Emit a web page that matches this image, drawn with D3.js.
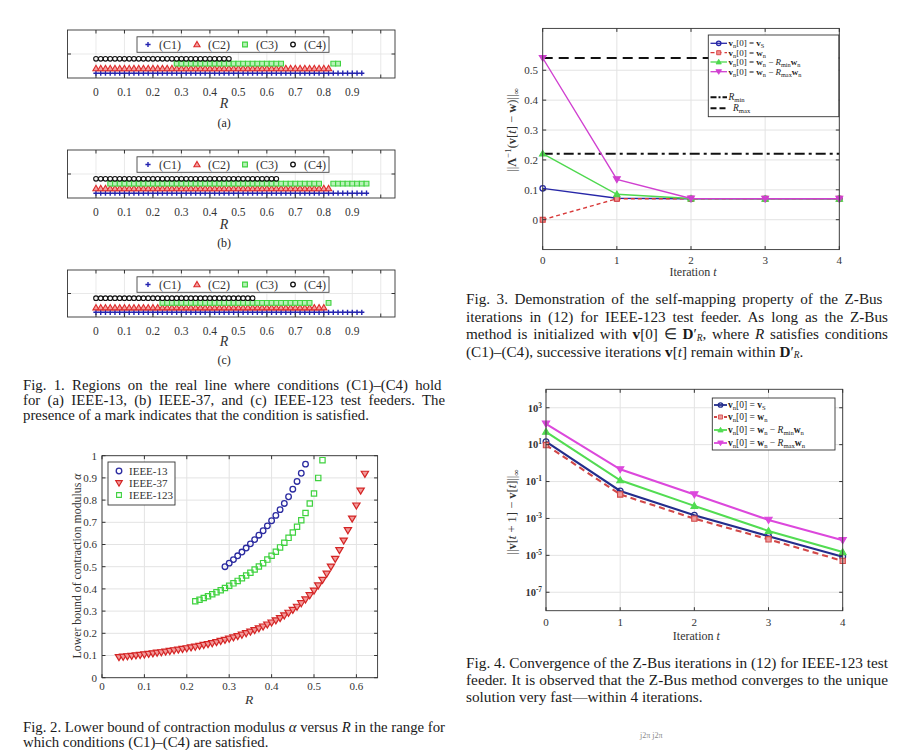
<!DOCTYPE html>
<html><head><meta charset="utf-8">
<script src="https://cdn.jsdelivr.net/npm/d3@7"></script>
<style>
body{margin:0;background:#fff;}
svg{display:block;font-family:"Liberation Serif","Times New Roman",serif;}
svg text{font-family:"Liberation Serif","Times New Roman",serif;}
</style></head><body>
<svg id="page" width="906" height="750"></svg>
<script>
// ================= DATA =================
// Fig. 1 : R intervals where each condition holds (marks drawn on the R sample grid)
const fig1Conditions = ["(C1)", "(C2)", "(C3)", "(C4)"];
const fig1PanelLabels = ["(a)", "(b)", "(c)"];
const fig1Ticks = [0, 0.1, 0.2, 0.3, 0.4, 0.5, 0.6, 0.7, 0.8, 0.9, 1.0];
const fig1TickLabels = ["0", "0.1", "0.2", "0.3", "0.4", "0.5", "0.6", "0.7", "0.8", "0.9"];
const fig1RGrid = d3.range(0, 61).map(k => k / 60);   // R sample grid
const fig1a_C1 = [[0, 0.935]];
const fig1a_C2 = [[0, 0.82]];
const fig1a_C3 = [[0.28, 0.65], [0.83, 0.855]];
const fig1a_C4 = [[0, 0.48]];
const fig1b_C1 = [[0, 0.95]];
const fig1b_C2 = [[0, 0.82]];
const fig1b_C3 = [[0.05, 0.785], [0.83, 0.955]];
const fig1b_C4 = [[0, 0.64]];
const fig1c_C1 = [[0, 0.935]];
const fig1c_C2 = [[0, 0.81]];
const fig1c_C3 = [[0.22, 0.755], [0.81, 0.825]];
const fig1c_C4 = [[0, 0.555]];

// Fig. 2 : lower bound of contraction modulus alpha vs R
const fig2Series = ["IEEE-13", "IEEE-37", "IEEE-123"];
const fig2XTicks = [0, 0.1, 0.2, 0.3, 0.4, 0.5, 0.6];
const fig2XTickLabels = ["0", "0.1", "0.2", "0.3", "0.4", "0.5", "0.6"];
const fig2YTicks = [0, 0.1, 0.2, 0.3, 0.4, 0.5, 0.6, 0.7, 0.8, 0.9, 1];
const fig2YTickLabels = ["0", "0.1", "0.2", "0.3", "0.4", "0.5", "0.6", "0.7", "0.8", "0.9", "1"];
const ieee13_R = [0.29,0.30,0.31,0.32,0.33,0.34,0.35,0.36,0.37,0.38,0.39,0.40,0.41,0.42,0.43,0.44,0.45,0.46,0.47,0.48];
const ieee13_alpha = [0.500,0.516,0.532,0.549,0.566,0.584,0.603,0.622,0.642,0.662,0.684,0.707,0.731,0.757,0.785,0.815,0.849,0.884,0.921,0.962];
const ieee37_R = [0.04,0.05,0.06,0.07,0.08,0.09,0.10,0.11,0.12,0.13,0.14,0.15,0.16,0.17,0.18,0.19,0.20,0.21,0.22,0.23,0.24,0.25,0.26,0.27,0.28,0.29,0.30,0.31,0.32,0.33,0.34,0.35,0.36,0.37,0.38,0.39,0.40,0.41,0.42,0.43,0.44,0.45,0.46,0.47,0.48,0.49,0.50,0.51,0.52,0.53,0.54,0.55,0.56,0.57,0.58,0.59,0.60,0.61,0.62];
const ieee37_alpha = [0.092,0.094,0.096,0.098,0.100,0.102,0.104,0.107,0.109,0.112,0.114,0.117,0.120,0.123,0.126,0.129,0.132,0.136,0.139,0.143,0.147,0.151,0.155,0.160,0.165,0.170,0.175,0.181,0.187,0.193,0.200,0.207,0.214,0.222,0.230,0.239,0.248,0.258,0.268,0.280,0.292,0.305,0.319,0.335,0.352,0.371,0.392,0.415,0.440,0.468,0.500,0.535,0.574,0.617,0.664,0.716,0.775,0.842,0.918];
const ieee123_R = [0.22,0.23,0.24,0.25,0.26,0.27,0.28,0.29,0.30,0.31,0.32,0.33,0.34,0.35,0.36,0.37,0.38,0.39,0.40,0.41,0.42,0.43,0.44,0.45,0.46,0.47,0.48,0.49,0.50,0.51,0.52];
const ieee123_alpha = [0.344,0.351,0.359,0.367,0.376,0.385,0.394,0.404,0.414,0.425,0.436,0.448,0.460,0.473,0.487,0.501,0.516,0.532,0.549,0.567,0.587,0.608,0.630,0.654,0.680,0.709,0.742,0.785,0.830,0.900,0.980];

// Fig. 3 : self-mapping property
const iterations = [0, 1, 2, 3, 4];
const fig3YTicks = [0, 0.1, 0.2, 0.3, 0.4, 0.5];
const fig3YTickLabels = ["0", "0.1", "0.2", "0.3", "0.4", "0.5"];
const fig3_vS   = [0.105, 0.072, 0.070, 0.070, 0.070];
const fig3_wn   = [0.000, 0.070, 0.070, 0.070, 0.070];
const fig3_Rmin = [0.221, 0.085, 0.071, 0.070, 0.070];
const fig3_Rmax = [0.541, 0.135, 0.071, 0.070, 0.070];
const fig3_RminLevel = 0.221;
const fig3_RmaxLevel = 0.541;

// Fig. 4 : convergence
const fig4YTicks = [1e-7, 1e-5, 1e-3, 1e-1, 1e1, 1e3];
const fig4YTickExps = ["-7", "-5", "-3", "-1", "1", "3"];
const fig4_vS   = [14.5, 0.031, 1.5e-3, 1.1e-4, 8.5e-6];
const fig4_wn   = [9.5, 0.020, 9.8e-4, 7.4e-5, 5.0e-6];
const fig4_Rmin = [50, 0.117, 4.8e-3, 2.1e-4, 1.5e-5];
const fig4_Rmax = [135, 0.46, 0.020, 8.3e-4, 6.6e-5];

// ================= DRAWING =================
const svg = d3.select("#page");
const INK = "#1e1e1e";
const GRID = "#e3e3e3";

function rich(parent, x, y, parts, size, opts = {}) {
  const t = parent.append("text").attr("x", x).attr("y", y)
    .attr("font-size", size).attr("fill", opts.fill || INK);
  if (opts.anchor) t.attr("text-anchor", opts.anchor);
  if (opts.transform) t.attr("transform", opts.transform);
  const subK = opts.subShift != null ? opts.subShift : 0.2;
  const subSize = opts.subSize != null ? opts.subSize : 0.7;
  let shift = 0;
  parts.forEach(p => {
    const seg = typeof p === "string" ? { t: p } : p;
    const ts = t.append("tspan").text(seg.t);
    const target = seg.sub ? size * subK : seg.sup ? -size * 0.38 : 0;
    if (target !== shift) { ts.attr("dy", target - shift); shift = target; }
    if (seg.sub || seg.sup) ts.attr("font-size", size * subSize);
    if (seg.b) ts.attr("font-weight", "bold");
    if (seg.i) ts.attr("font-style", "italic");
  });
  return t;
}

function box(g, x0, x1, y0, y1) {
  g.append("rect").attr("x", x0).attr("y", y0).attr("width", x1 - x0).attr("height", y1 - y0)
    .attr("fill", "none").attr("stroke", "#333").attr("stroke-width", 0.9);
}

const mk = {
  plus: "M-2.6,0H2.6M0,-2.6V2.6",
  triUp: "M0,-3.1L3.1,2.3L-3.1,2.3Z",
  triDown: "M0,3.1L3.3,-2.4L-3.3,-2.4Z",
  square: "M-2.4,-2.4h4.8v4.8h-4.8z"
};

// ---------- Fig. 1 ----------
const f1x = d3.scaleLinear().domain([-0.1, 1.05]).range([67.5, 395]);
const fig1Panels = [
  { top: 30, bot: 78, tickY: 96, rY: 108, capY: 127, data: [fig1a_C1, fig1a_C2, fig1a_C3, fig1a_C4] },
  { top: 150, bot: 198, tickY: 216, rY: 228.5, capY: 247, data: [fig1b_C1, fig1b_C2, fig1b_C3, fig1b_C4] },
  { top: 270, bot: 317, tickY: 334.5, rY: 346, capY: 364, data: [fig1c_C1, fig1c_C2, fig1c_C3, fig1c_C4] }
];
const f1style = [
  { path: mk.plus, stroke: "#2424b0", fill: "none", sw: 1.4 },
  { path: mk.triUp, stroke: "#dd2a2a", fill: "#f3a0a0", sw: 1.1 },
  { path: mk.square, stroke: "#3fd23f", fill: "#b8f2b8", sw: 1.1 },
  { path: null, stroke: "#111", fill: "none", sw: 1.1 }
];
fig1Panels.forEach((p, pi) => {
  const g = svg.append("g");
  const y = d3.scaleLinear().domain([0, 10]).range([p.bot, p.top]);
  const [x0, x1] = f1x.range();
  g.selectAll(".vg").data(fig1Ticks).join("line")
    .attr("x1", d => f1x(d)).attr("x2", d => f1x(d)).attr("y1", p.top).attr("y2", p.bot)
    .attr("stroke", GRID).attr("stroke-width", 0.8);
  g.append("line").attr("x1", x0).attr("x2", x1).attr("y1", y(5)).attr("y2", y(5))
    .attr("stroke", GRID).attr("stroke-width", 0.8);
  p.data.forEach((intervals, ci) => {
    const pts = fig1RGrid.filter(r => intervals.some(iv => r >= iv[0] - 1e-9 && r <= iv[1] + 1e-9));
    const st = f1style[ci];
    const sel = g.append("g").selectAll("x").data(pts);
    if (st.path) {
      sel.join("path").attr("d", st.path)
        .attr("transform", d => `translate(${f1x(d)},${y(ci + 1)})`)
        .attr("stroke", st.stroke).attr("fill", st.fill).attr("stroke-width", st.sw);
    } else {
      sel.join("circle").attr("cx", d => f1x(d)).attr("cy", y(ci + 1)).attr("r", 2.3)
        .attr("stroke", st.stroke).attr("fill", "none").attr("stroke-width", st.sw);
    }
  });
  fig1Ticks.forEach(t => {
    g.append("line").attr("x1", f1x(t)).attr("x2", f1x(t)).attr("y1", p.top).attr("y2", p.top + 3.5).attr("stroke", "#333");
    g.append("line").attr("x1", f1x(t)).attr("x2", f1x(t)).attr("y1", p.bot).attr("y2", p.bot - 3.5).attr("stroke", "#333");
  });
  g.append("line").attr("x1", x0).attr("x2", x0 + 3.5).attr("y1", y(5)).attr("y2", y(5)).attr("stroke", "#333");
  g.append("line").attr("x1", x1).attr("x2", x1 - 3.5).attr("y1", y(5)).attr("y2", y(5)).attr("stroke", "#333");
  box(g, x0, x1, p.top, p.bot);
  fig1TickLabels.forEach((lab, i) => {
    g.append("text").attr("x", f1x(fig1Ticks[i])).attr("y", p.tickY).attr("text-anchor", "middle")
      .attr("font-size", 11.5).attr("fill", "#333").text(lab);
  });
  g.append("text").attr("x", f1x(0.45)).attr("y", p.rY).attr("text-anchor", "middle")
    .attr("font-size", 14).attr("font-style", "italic").attr("fill", "#333").text("R");
  g.append("text").attr("x", f1x(0.45)).attr("y", p.capY).attr("text-anchor", "middle")
    .attr("font-size", 12).attr("fill", INK).text(fig1PanelLabels[pi]);
  const ly = p.top + 14.5;
  g.append("rect").attr("x", 137).attr("y", p.top + 6.8).attr("width", 192).attr("height", 15.5)
    .attr("fill", "#fff").attr("stroke", "#444").attr("stroke-width", 0.9);
  const lx = [148, 197, 245, 293];
  fig1Conditions.forEach((c, ci) => {
    const st = f1style[ci];
    if (st.path) g.append("path").attr("d", st.path).attr("transform", `translate(${lx[ci]},${ly})`)
      .attr("stroke", st.stroke).attr("fill", st.fill).attr("stroke-width", st.sw);
    else g.append("circle").attr("cx", lx[ci]).attr("cy", ly).attr("r", 2.3)
      .attr("stroke", st.stroke).attr("fill", "none").attr("stroke-width", 1.3);
    g.append("text").attr("x", lx[ci] + 11).attr("y", ly + 4).attr("font-size", 12).attr("fill", "#333").text(c);
  });
});

// ---------- Fig. 2 ----------
{
  const g = svg.append("g");
  const x = d3.scaleLinear().domain([0, 0.65]).range([102, 377.6]);
  const y = d3.scaleLinear().domain([0, 1]).range([677.7, 455.7]);
  const [x0, x1] = x.range(), [y0, y1] = [y(1), y(0)];
  fig2XTicks.forEach(t => g.append("line").attr("x1", x(t)).attr("x2", x(t)).attr("y1", y0).attr("y2", y1).attr("stroke", GRID));
  fig2YTicks.forEach(t => g.append("line").attr("x1", x0).attr("x2", x1).attr("y1", y(t)).attr("y2", y(t)).attr("stroke", GRID));
  const series = [
    { R: ieee13_R, a: ieee13_alpha, kind: "circle", stroke: "#2b2ba0", fill: "none" },
    { R: ieee37_R, a: ieee37_alpha, kind: "triDown", stroke: "#d42424", fill: "#f29a9a" },
    { R: ieee123_R, a: ieee123_alpha, kind: "square", stroke: "#3fd23f", fill: "none" }
  ];
  series.forEach(s => {
    const pts = s.R.map((r, i) => [r, s.a[i]]);
    if (s.kind === "circle") {
      g.append("g").selectAll("c").data(pts).join("circle").attr("cx", d => x(d[0])).attr("cy", d => y(d[1]))
        .attr("r", 2.8).attr("fill", "none").attr("stroke", s.stroke).attr("stroke-width", 1.3);
    } else {
      g.append("g").selectAll("p").data(pts).join("path").attr("d", mk[s.kind])
        .attr("transform", d => `translate(${x(d[0])},${y(d[1])}) scale(1.1)`)
        .attr("fill", s.fill).attr("stroke", s.stroke).attr("stroke-width", 1.1);
    }
  });
  fig2XTicks.forEach((t, i) => {
    g.append("line").attr("x1", x(t)).attr("x2", x(t)).attr("y1", y1).attr("y2", y1 - 3.5).attr("stroke", "#333");
    g.append("line").attr("x1", x(t)).attr("x2", x(t)).attr("y1", y0).attr("y2", y0 + 3.5).attr("stroke", "#333");
    g.append("text").attr("x", x(t)).attr("y", 690).attr("text-anchor", "middle").attr("font-size", 11).attr("fill", "#333").text(fig2XTickLabels[i]);
  });
  fig2YTicks.forEach((t, i) => {
    g.append("line").attr("x1", x0).attr("x2", x0 + 3.5).attr("y1", y(t)).attr("y2", y(t)).attr("stroke", "#333");
    g.append("line").attr("x1", x1).attr("x2", x1 - 3.5).attr("y1", y(t)).attr("y2", y(t)).attr("stroke", "#333");
    g.append("text").attr("x", 97).attr("y", y(t) + 3.8).attr("text-anchor", "end").attr("font-size", 11).attr("fill", "#333").text(fig2YTickLabels[i]);
  });
  box(g, x0, x1, y0, y1);
  g.append("text").attr("x", 249).attr("y", 704).attr("text-anchor", "middle").attr("font-size", 13.5)
    .attr("font-style", "italic").attr("fill", "#333").text("R");
  rich(g, 0, 0, ["Lower bound of contraction modulus ", { t: "α", i: true }], 11.8,
    { anchor: "middle", transform: "translate(81,566) rotate(-90)", fill: "#333" });
  g.append("rect").attr("x", 108).attr("y", 462).attr("width", 67).attr("height", 43)
    .attr("fill", "#fff").attr("stroke", "#333").attr("stroke-width", 0.9);
  const ly = [471, 483, 495];
  series.forEach((s, i) => {
    if (s.kind === "circle") g.append("circle").attr("cx", 119).attr("cy", ly[i]).attr("r", 2.8)
      .attr("fill", "none").attr("stroke", s.stroke).attr("stroke-width", 1.3);
    else g.append("path").attr("d", mk[s.kind]).attr("transform", `translate(119,${ly[i]})`)
      .attr("fill", s.fill).attr("stroke", s.stroke).attr("stroke-width", 1.1);
    g.append("text").attr("x", 129).attr("y", ly[i] + 3.8).attr("font-size", 11).attr("fill", "#333").text(fig2Series[i]);
  });
}

const vn0 = [{ t: "v", b: true }, { t: "n", sub: true }, "[0] = "];
const legendParts = [
  [...vn0, { t: "v", b: true }, { t: "S", sub: true }],
  [...vn0, { t: "w", b: true }, { t: "n", sub: true }],
  [...vn0, { t: "w", b: true }, { t: "n", sub: true }, " − ", { t: "R", i: true }, { t: "min", sub: true }, { t: "w", b: true }, { t: "n", sub: true }],
  [...vn0, { t: "w", b: true }, { t: "n", sub: true }, " − ", { t: "R", i: true }, { t: "max", sub: true }, { t: "w", b: true }, { t: "n", sub: true }]
];

function lineFig(cfg) {
  const g = svg.append("g");
  const { x, y } = cfg;
  const [x0, x1] = x.range();
  const y0 = y.range()[1], y1 = y.range()[0];
  iterations.forEach(t => g.append("line").attr("x1", x(t)).attr("x2", x(t)).attr("y1", y0).attr("y2", y1).attr("stroke", GRID));
  cfg.yTicks.forEach(t => g.append("line").attr("x1", x0).attr("x2", x1).attr("y1", y(t)).attr("y2", y(t)).attr("stroke", GRID));
  if (cfg.extra) cfg.extra(g);
  const line = d3.line().x((d, i) => x(iterations[i])).y(d => y(d));
  cfg.series.forEach(s => {
    g.append("path").attr("d", line(s.v)).attr("fill", "none").attr("stroke", s.color)
      .attr("stroke-width", cfg.lw).attr("stroke-dasharray", s.dash || null);
    s.v.forEach((v, i) => drawMarker(g, s, x(iterations[i]), y(v), cfg.ms));
  });
  iterations.forEach(t => {
    g.append("line").attr("x1", x(t)).attr("x2", x(t)).attr("y1", y1).attr("y2", y1 - 3.5).attr("stroke", "#333");
    g.append("line").attr("x1", x(t)).attr("x2", x(t)).attr("y1", y0).attr("y2", y0 + 3.5).attr("stroke", "#333");
    g.append("text").attr("x", x(t)).attr("y", cfg.xLabY).attr("text-anchor", "middle").attr("font-size", 11).attr("fill", "#333").text(String(t));
  });
  cfg.yTicks.forEach((t, i) => {
    g.append("line").attr("x1", x0).attr("x2", x0 + 3.5).attr("y1", y(t)).attr("y2", y(t)).attr("stroke", "#333");
    g.append("line").attr("x1", x1).attr("x2", x1 - 3.5).attr("y1", y(t)).attr("y2", y(t)).attr("stroke", "#333");
    cfg.yLab(g, t, i);
  });
  box(g, x0, x1, y0, y1);
  rich(g, (x0 + x1) / 2 + 2, cfg.titleY, ["Iteration ", { t: "t", i: true }], 12, { anchor: "middle", fill: "#333" });
  rich(g, 0, 0, cfg.yTitle, 12.5, { anchor: "middle", transform: `translate(${cfg.yTitleX},${cfg.yTitleCY}) rotate(-90)`, fill: "#333" });
  return g;
}
function drawMarker(g, s, cx, cy, ms) {
  if (s.marker === "circle") g.append("circle").attr("cx", cx).attr("cy", cy).attr("r", 2.6 * ms)
    .attr("fill", "none").attr("stroke", s.color).attr("stroke-width", 1.3);
  else g.append("path").attr("d", mk[s.marker]).attr("transform", `translate(${cx},${cy}) scale(${ms})`)
    .attr("fill", s.mfill).attr("stroke", s.color).attr("stroke-width", 1);
}

// ---------- Fig. 3 ----------
{
  const x = d3.scaleLinear().domain([0, 4]).range([542.7, 839.3]);
  const y = d3.scaleLinear().domain([-0.1, 0.64]).range([249.6, 28.4]);
  const series = [
    { v: fig3_vS, color: "#2727a8", marker: "circle", mfill: "none" },
    { v: fig3_wn, color: "#d83a3a", marker: "square", mfill: "#ef9090", dash: "4,3" },
    { v: fig3_Rmin, color: "#4ed84e", marker: "triUp", mfill: "#4ed84e" },
    { v: fig3_Rmax, color: "#d040d0", marker: "triDown", mfill: "#d040d0" }
  ];
  const g = lineFig({
    x, y, series, lw: 1.4, ms: 1.05, yTicks: fig3YTicks, xLabY: 264, titleY: 276,
    yTitle: ["||", { t: "Λ", b: true }, { t: "−1", sup: true }, "(", { t: "v", b: true }, "[", { t: "t", i: true }, "] − ", { t: "w", b: true }, ")||", { t: "∞", sub: true }],
    yTitleX: 516, yTitleCY: 130,
    yLab: (g, t, i) => g.append("text").attr("x", 538).attr("y", y(t) + 3.8).attr("text-anchor", "end")
      .attr("font-size", 11).attr("fill", "#333").text(fig3YTickLabels[i]),
    extra: g => {
      g.append("line").attr("x1", x(0)).attr("x2", x(4)).attr("y1", y(fig3_RmaxLevel)).attr("y2", y(fig3_RmaxLevel))
        .attr("stroke", "#111").attr("stroke-width", 2).attr("stroke-dasharray", "10,6");
      g.append("line").attr("x1", x(0)).attr("x2", x(4)).attr("y1", y(fig3_RminLevel)).attr("y2", y(fig3_RminLevel))
        .attr("stroke", "#111").attr("stroke-width", 2).attr("stroke-dasharray", "10,4,3,4");
    }
  });
  g.append("rect").attr("x", 708.3).attr("y", 35).attr("width", 130.5).attr("height", 81.7)
    .attr("fill", "#fff").attr("stroke", "#333").attr("stroke-width", 0.9);
  const rows = [43.3, 52.7, 62, 71.7];
  series.forEach((s, i) => {
    g.append("line").attr("x1", 710.5).attr("x2", 727).attr("y1", rows[i]).attr("y2", rows[i])
      .attr("stroke", s.color).attr("stroke-width", 1.3).attr("stroke-dasharray", s.dash || null);
    drawMarker(g, s, 718.7, rows[i], 0.85);
    rich(g, 728.5, rows[i] + 3.1, legendParts[i], 9, { fill: "#222" });
  });
  g.append("line").attr("x1", 710.5).attr("x2", 727).attr("y1", 97.3).attr("y2", 97.3)
    .attr("stroke", "#111").attr("stroke-width", 2).attr("stroke-dasharray", "6,2,2,2");
  rich(g, 728.5, 100.4, [{ t: "R", i: true }, { t: "min", sub: true }], 9.5, { fill: "#222" });
  g.append("line").attr("x1", 710.5).attr("x2", 727).attr("y1", 108.3).attr("y2", 108.3)
    .attr("stroke", "#111").attr("stroke-width", 2).attr("stroke-dasharray", "6,3");
  rich(g, 733, 111.4, [{ t: "R", i: true }, { t: "max", sub: true }], 9.5, { fill: "#222" });
}

// ---------- Fig. 4 ----------
{
  const x = d3.scaleLinear().domain([0, 4]).range([546, 842.7]);
  const y = d3.scaleLog().domain([1e-8, 1e4]).range([610.7, 389.3]);
  const series = [
    { v: fig4_vS, color: "#232d8c", marker: "circle", mfill: "none" },
    { v: fig4_wn, color: "#d24848", marker: "square", mfill: "#ee9a9a", dash: "6,4" },
    { v: fig4_Rmin, color: "#52dc52", marker: "triUp", mfill: "#52dc52" },
    { v: fig4_Rmax, color: "#dc48dc", marker: "triDown", mfill: "#dc48dc" }
  ];
  const g = lineFig({
    x, y, series, lw: 2.1, ms: 1.1, yTicks: fig4YTicks, xLabY: 625.5, titleY: 639.5,
    yTitle: ["||", { t: "v", b: true }, "[", { t: "t", i: true }, " + 1] − ", { t: "v", b: true }, "[", { t: "t", i: true }, "]||", { t: "∞", sub: true }],
    yTitleX: 516, yTitleCY: 512,
    yLab: (g, t, i) => rich(g, 542, y(t) + 3.8, [{ t: "10", b: true }, { t: fig4YTickExps[i], sup: true, b: true }], 10.5,
      { anchor: "end", fill: "#333" })
  });
  g.append("rect").attr("x", 712.3).attr("y", 398).attr("width", 122.7).attr("height", 52)
    .attr("fill", "#fff").attr("stroke", "#333").attr("stroke-width", 0.9);
  const rows = [405, 417, 430, 443];
  series.forEach((s, i) => {
    g.append("line").attr("x1", 714).attr("x2", 727).attr("y1", rows[i]).attr("y2", rows[i])
      .attr("stroke", s.color).attr("stroke-width", 1.8).attr("stroke-dasharray", s.dash ? "3,2" : null);
    drawMarker(g, s, 720.5, rows[i], 0.85);
    rich(g, 728, rows[i] + 3.3, legendParts[i], 9.5, { fill: "#222" });
  });
}

// ---------- Captions ----------
function caption(lines, x, y0, lh, width, size) {
  lines.forEach((ln, i) => {
    const t = rich(svg, x, y0 + i * lh, ln.parts, size, { fill: "#1a1a1a", subShift: 0.12, subSize: 0.62 });
    if (ln.justify) {
      const L = t.node().getComputedTextLength();
      const txt = ln.parts.map(p => typeof p === "string" ? p : p.t).join("");
      const n = (txt.match(/ /g) || []).length;
      if (n > 0) t.attr("word-spacing", (width - L) / n);
    }
  });
}
caption([
  { parts: ["Fig. 1.  Regions on the real line where conditions (C1)–(C4) hold"], justify: true },
  { parts: ["for (a) IEEE-13, (b) IEEE-37, and (c) IEEE-123 test feeders. The"], justify: true },
  { parts: ["presence of a mark indicates that the condition is satisfied."] }
], 23, 389.5, 15, 422, 14.8);
caption([
  { parts: ["Fig. 2.   Lower bound of contraction modulus ", { t: "α", i: true }, " versus ", { t: "R", i: true }, " in the range for"], justify: true },
  { parts: ["which conditions (C1)–(C4) are satisfied."] }
], 23, 732, 15, 422, 14.8);
caption([
  { parts: ["Fig. 3.   Demonstration of the self-mapping property of the Z-Bus"], justify: true },
  { parts: ["iterations in (12) for IEEE-123 test feeder. As long as the Z-Bus"], justify: true },
  { parts: ["method is initialized with ", { t: "v", b: true }, "[0] ∈ ", { t: "D", b: true }, "′", { t: "R", sub: true, i: true }, ", where ", { t: "R", i: true }, " satisfies conditions"], justify: true },
  { parts: ["(C1)–(C4), successive iterations ", { t: "v", b: true }, "[", { t: "t", i: true }, "] remain within ", { t: "D", b: true }, "′", { t: "R", sub: true, i: true }, "."] }
], 466, 304, 17.5, 422, 15.2);
caption([
  { parts: ["Fig. 4.  Convergence of the Z-Bus iterations in (12) for IEEE-123 test"], justify: true },
  { parts: ["feeder. It is observed that the Z-Bus method converges to the unique"], justify: true },
  { parts: ["solution very fast—within 4 iterations."] }
], 466, 668, 17, 422, 15.3);
// partial equation at page bottom
svg.append("text").attr("x", 640).attr("y", 738).attr("font-size", 8).attr("fill", "#888").text("j2π   j2π");
</script>
</body></html>
